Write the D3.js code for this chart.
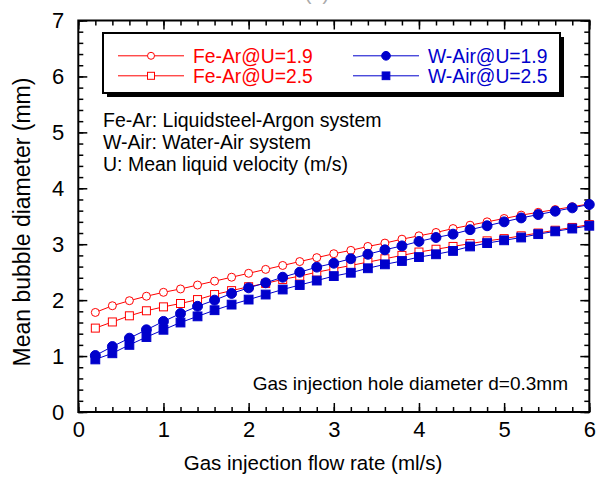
<!DOCTYPE html>
<html>
<head>
<meta charset="utf-8">
<script src="https://cdn.jsdelivr.net/npm/d3@7"></script>
<style>
  body { margin: 0; background: #fff; }
  text { font-family: "Liberation Sans", Arial, Helvetica, sans-serif; }
</style>
</head>
<body>
<script>
// 数据
var flowRate = [0.2, 0.4, 0.6, 0.8, 1.0, 1.2, 1.4, 1.6, 1.8, 2.0, 2.2, 2.4, 2.6, 2.8, 3.0,
                3.2, 3.4, 3.6, 3.8, 4.0, 4.2, 4.4, 4.6, 4.8, 5.0, 5.2, 5.4, 5.6, 5.8, 6.0];
var feAr19 = [1.78, 1.90, 1.99, 2.07, 2.14, 2.20, 2.27, 2.34, 2.41, 2.48, 2.55, 2.62, 2.69, 2.76, 2.83,
              2.89, 2.96, 3.02, 3.09, 3.15, 3.21, 3.28, 3.34, 3.40, 3.46, 3.52, 3.57, 3.62, 3.67, 3.72];
var feAr25 = [1.50, 1.61, 1.72, 1.81, 1.88, 1.94, 2.01, 2.10, 2.17, 2.24, 2.30, 2.37, 2.43, 2.50, 2.56,
              2.62, 2.68, 2.74, 2.80, 2.86, 2.91, 2.96, 3.01, 3.06, 3.10, 3.15, 3.20, 3.25, 3.30, 3.35];
var wAir19 = [1.01, 1.17, 1.32, 1.47, 1.62, 1.76, 1.89, 2.00, 2.12, 2.22, 2.31, 2.41, 2.50, 2.59, 2.66,
              2.74, 2.82, 2.90, 2.97, 3.05, 3.12, 3.18, 3.26, 3.33, 3.40, 3.47, 3.53, 3.59, 3.65, 3.71];
var wAir25 = [0.94, 1.05, 1.20, 1.34, 1.47, 1.60, 1.71, 1.82, 1.92, 2.01, 2.10, 2.19, 2.27, 2.35, 2.43,
              2.49, 2.57, 2.64, 2.70, 2.77, 2.82, 2.88, 2.96, 3.02, 3.07, 3.12, 3.18, 3.23, 3.28, 3.33];
var xTicks = [0, 1, 2, 3, 4, 5, 6];
var yTicks = [0, 1, 2, 3, 4, 5, 6, 7];
var seriesNames = ["Fe-Ar@U=1.9", "Fe-Ar@U=2.5", "W-Air@U=1.9", "W-Air@U=2.5"];
var notes = ["Fe-Ar: Liquidsteel-Argon system", "W-Air: Water-Air system", "U: Mean liquid velocity (m/s)"];

var red = "#ff0000";
var blue = "#0000cc";

var width = 599;
var height = 483;
var padding = { left: 78.3, right: 9.7, top: 20.5, bottom: 71 };
var w = width - padding.left - padding.right;
var h = height - padding.top - padding.bottom;

var svg = d3.select("body")
  .append("svg")
  .attr("width", width)
  .attr("height", height);

// 比例尺
var xScale = d3.scaleLinear().domain([0, 6]).range([0, w]);
var yScale = d3.scaleLinear().domain([0, 7]).range([h, 0]);

var g = svg.append("g")
  .attr("transform", "translate(" + padding.left + "," + padding.top + ")");

// 刻度 (朝内)
var minorX = d3.range(0, 6.001, 0.2).map(function (d) { return +d.toFixed(1); });
var minorY = d3.range(0, 7.001, 0.2).map(function (d) { return +d.toFixed(1); });

function styleAxis(sel) {
  sel.select(".domain").remove();
  sel.selectAll("line").attr("stroke", "#000").attr("stroke-width", 1.5);
}

g.append("g").attr("transform", "translate(0," + h + ")")
  .call(d3.axisBottom(xScale).tickValues(minorX).tickSize(-5).tickFormat(""))
  .call(styleAxis);
g.append("g").attr("transform", "translate(0," + h + ")")
  .call(d3.axisBottom(xScale).tickValues(xTicks).tickSize(-9).tickPadding(9).tickFormat(d3.format("d")))
  .call(styleAxis)
  .selectAll("text").attr("font-size", 22).attr("fill", "#000");
g.append("g")
  .call(d3.axisTop(xScale).tickValues(minorX).tickSize(-5).tickFormat(""))
  .call(styleAxis);
g.append("g")
  .call(d3.axisTop(xScale).tickValues(xTicks).tickSize(-9).tickFormat(""))
  .call(styleAxis);

g.append("g")
  .call(d3.axisLeft(yScale).tickValues(minorY).tickSize(-5).tickFormat(""))
  .call(styleAxis);
g.append("g")
  .call(d3.axisLeft(yScale).tickValues(yTicks).tickSize(-9).tickPadding(14).tickFormat(d3.format("d")))
  .call(styleAxis)
  .selectAll("text").attr("font-size", 22).attr("fill", "#000");
g.append("g").attr("transform", "translate(" + w + ",0)")
  .call(d3.axisRight(yScale).tickValues(minorY).tickSize(-5).tickFormat(""))
  .call(styleAxis);
g.append("g").attr("transform", "translate(" + w + ",0)")
  .call(d3.axisRight(yScale).tickValues(yTicks).tickSize(-9).tickFormat(""))
  .call(styleAxis);

// 边框
g.append("rect")
  .attr("width", w).attr("height", h)
  .attr("fill", "none").attr("stroke", "#000").attr("stroke-width", 2);

// 曲线与标记
var series = [
  { name: seriesNames[0], values: feAr19, color: red, shape: "circle", filled: false },
  { name: seriesNames[1], values: feAr25, color: red, shape: "square", filled: false },
  { name: seriesNames[2], values: wAir19, color: blue, shape: "circle", filled: true },
  { name: seriesNames[3], values: wAir25, color: blue, shape: "square", filled: true }
];

var line = d3.line()
  .x(function (d, i) { return xScale(flowRate[i]); })
  .y(function (d) { return yScale(d); });

function drawMarker(sel, s, size) {
  if (s.shape === "circle") {
    sel.append("circle")
      .attr("r", s.filled ? size * 0.62 : size * 0.5)
      .attr("fill", s.filled ? s.color : "#fff")
      .attr("stroke", s.color)
      .attr("stroke-width", 1);
  } else {
    var a = s.filled ? size * 1.1 : size;
    sel.append("rect")
      .attr("x", -a / 2).attr("y", -a / 2)
      .attr("width", a).attr("height", a)
      .attr("fill", s.filled ? s.color : "#fff")
      .attr("stroke", s.color)
      .attr("stroke-width", 1);
  }
}

series.forEach(function (s) {
  g.append("path")
    .datum(s.values)
    .attr("d", line)
    .attr("fill", "none")
    .attr("stroke", s.color)
    .attr("stroke-width", 1);

  g.append("g").selectAll(null)
    .data(s.values)
    .enter()
    .append("g")
    .attr("transform", function (d, i) {
      return "translate(" + xScale(flowRate[i]) + "," + yScale(d) + ")";
    })
    .each(function () { drawMarker(d3.select(this), s, 8); });
});

// 图例
var lg = svg.append("g").attr("transform", "translate(103,33)");
lg.append("rect").attr("x", 4).attr("y", 4).attr("width", 457).attr("height", 60).attr("fill", "#000");
lg.append("rect").attr("width", 457).attr("height", 60)
  .attr("fill", "#fff").attr("stroke", "#000").attr("stroke-width", 2);

series.forEach(function (s, i) {
  var col = Math.floor(i / 2);
  var row = i % 2;
  var item = lg.append("g")
    .attr("transform", "translate(" + (15 + col * 235) + "," + (22.8 + row * 20) + ")");
  item.append("line")
    .attr("x1", 0).attr("x2", 66)
    .attr("stroke", s.color).attr("stroke-width", 1);
  drawMarker(item.append("g").attr("transform", "translate(33,0)"), s, 7);
  item.append("text")
    .attr("x", 75).attr("y", 7)
    .attr("font-size", 19.3)
    .attr("fill", s.color)
    .text(s.name);
});

// 说明文字
svg.selectAll(".note")
  .data(notes)
  .enter()
  .append("text")
  .attr("class", "note")
  .attr("x", 103)
  .attr("y", function (d, i) { return 127 + i * 21.8; })
  .attr("font-size", 19.5)
  .attr("fill", "#000")
  .text(function (d) { return d; });

svg.append("text")
  .attr("x", 568).attr("y", 390)
  .attr("text-anchor", "end")
  .attr("font-size", 19)
  .attr("fill", "#000")
  .text("Gas injection hole diameter d=0.3mm");

// 轴标题
svg.append("text")
  .attr("x", 313).attr("y", 470)
  .attr("text-anchor", "middle")
  .attr("font-size", 20.5)
  .text("Gas injection flow rate (ml/s)");

svg.append("text")
  .attr("transform", "translate(30,222) rotate(-90)")
  .attr("text-anchor", "middle")
  .attr("font-size", 23)
  .text("Mean bubble diameter (mm)");

// 被裁掉的标题残迹
svg.append("text")
  .attr("x", 317).attr("y", 0)
  .attr("text-anchor", "middle")
  .attr("font-size", 20)
  .attr("fill", "#aaa")
  .text("(a)");
</script>
</body>
</html>
